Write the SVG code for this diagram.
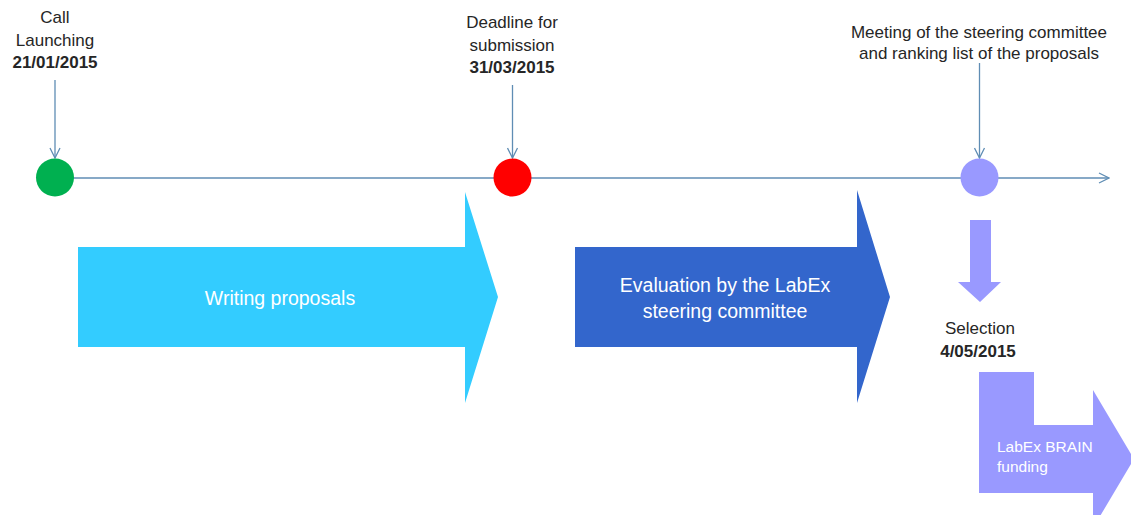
<svg xmlns="http://www.w3.org/2000/svg" width="1131" height="515" viewBox="0 0 1131 515">
<style>
  .lbl{font-family:"Liberation Sans",Arial,sans-serif;font-size:17px;fill:#262626;text-anchor:middle}
  .b{font-weight:bold}
  .wt{font-family:"Liberation Sans",Arial,sans-serif;fill:#ffffff}
  .conn{stroke:#5f8db4;stroke-width:1.3;fill:none}
</style>
<defs>
  <marker id="chev" viewBox="0 0 12 12" refX="11" refY="6" markerWidth="12" markerHeight="12" markerUnits="userSpaceOnUse" orient="auto">
    <path d="M1,1 L11,6 L1,11" fill="none" stroke="#5f8db4" stroke-width="1.3"/>
  </marker>
</defs>
<rect width="1131" height="515" fill="#ffffff"/>
<g id="connectors">
  <line class="conn" x1="55" y1="178" x2="1109" y2="178" marker-end="url(#chev)"/>
  <line class="conn" x1="55" y1="80" x2="55" y2="158" marker-end="url(#chev)"/>
  <line class="conn" x1="512.5" y1="85" x2="512.5" y2="158" marker-end="url(#chev)"/>
  <line class="conn" x1="979.5" y1="63" x2="979.5" y2="158" marker-end="url(#chev)"/>
</g>
<g id="call-launching">
  <text class="lbl" x="55" y="23">Call</text>
  <text class="lbl" x="55" y="46">Launching</text>
  <text class="lbl b" x="55" y="68">21/01/2015</text>
  <circle cx="55" cy="177.5" r="19" fill="#00b050"/>
</g>
<g id="deadline">
  <text class="lbl" x="512" y="28">Deadline for</text>
  <text class="lbl" x="512" y="51">submission</text>
  <text class="lbl b" x="512" y="73">31/03/2015</text>
  <circle cx="512.5" cy="177.5" r="19" fill="#ff0000"/>
</g>
<g id="meeting">
  <text class="lbl" x="979" y="38">Meeting of the steering committee</text>
  <text class="lbl" x="979" y="59">and ranking list of the proposals</text>
  <circle cx="979.5" cy="177.5" r="19" fill="#9999ff"/>
</g>
<g id="writing">
  <path d="M78,247 H465 V192 L498,297 L465,403 V347 H78 Z" fill="#33ccff"/>
  <text class="wt" x="280" y="305" font-size="19.5" text-anchor="middle">Writing proposals</text>
</g>
<g id="evaluation">
  <path d="M575,247 H857 V190 L890,297 L857,403 V347 H575 Z" fill="#3366cc"/>
  <text class="wt" x="725" y="292" font-size="19.5" text-anchor="middle">Evaluation by the LabEx</text>
  <text class="wt" x="725" y="318" font-size="19.5" text-anchor="middle">steering committee</text>
</g>
<g id="selection">
  <path d="M970,220 H991 V282 H1001 L980,302 L958,282 H970 Z" fill="#9999ff"/>
  <text class="lbl" x="980" y="334">Selection</text>
  <text class="lbl b" x="978" y="357">4/05/2015</text>
</g>
<g id="funding">
  <path d="M979,372 H1034 V425 H1093 V390 L1134,459 L1093,528 V493 H979 Z" fill="#9999ff"/>
  <text class="wt" x="997" y="452" font-size="15.5">LabEx BRAIN</text>
  <text class="wt" x="997" y="472" font-size="15.5">funding</text>
</g>
</svg>
